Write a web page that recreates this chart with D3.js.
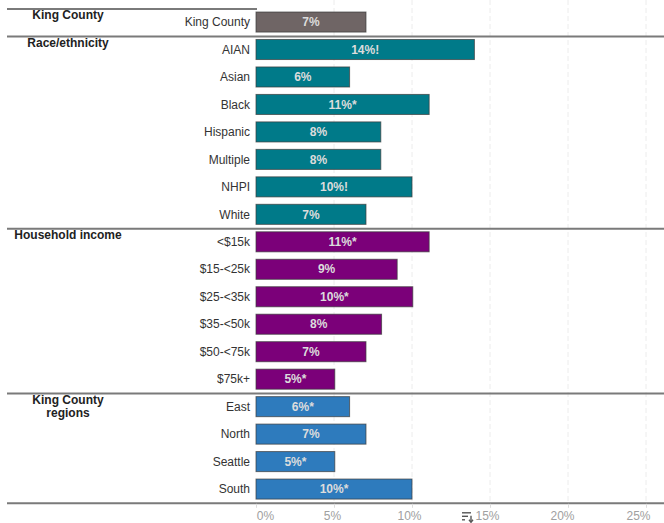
<!DOCTYPE html>
<html>
<head>
<meta charset="utf-8">
<script src="https://cdn.jsdelivr.net/npm/d3@7"></script>
<style>
  html, body { margin: 0; padding: 0; background: #fff; }
  svg { display: block; font-family: "Liberation Sans", Arial, sans-serif; }
</style>
</head>
<body>
<svg id="chart" width="664" height="523"></svg>
<script>
// ---- data ----
const groups = ["King County", "Race/ethnicity", "Household income", "King County regions"];
const groupLabels = [["King County"], ["Race/ethnicity"], ["Household income"], ["King County", "regions"]];
const categories = ["King County",
  "AIAN", "Asian", "Black", "Hispanic", "Multiple", "NHPI", "White",
  "<$15k", "$15-<25k", "$25-<35k", "$35-<50k", "$50-<75k", "$75k+",
  "East", "North", "Seattle", "South"];
const categoryGroup = [0, 1,1,1,1,1,1,1, 2,2,2,2,2,2, 3,3,3,3];
const values = [7.05, 14.0, 6.0, 11.1, 8.0, 8.0, 10.0, 7.05, 11.1, 9.05, 10.05, 8.05, 7.05, 5.05, 6.0, 7.05, 5.05, 10.0];
const valueLabels = ["7%", "14%!", "6%", "11%*", "8%", "8%", "10%!", "7%",
  "11%*", "9%", "10%*", "8%", "7%", "5%*", "6%*", "7%", "5%*", "10%*"];
const groupColors = ["#6f6565", "#007a89", "#7b0079", "#2e7bbd"];
const xTicks = [0, 5, 10, 15, 20, 25];
const xTickLabels = ["0%", "5%", "10%", "15%", "20%", "25%"];

// ---- layout ----
const svg = d3.select("#chart");
const x = d3.scaleLinear().domain([0, 25]).range([256, 646]);
const y = d3.scaleBand().domain(d3.range(categories.length))
  .range([8.3, 502.8]).paddingInner(0.27).paddingOuter(0.135);

// gridlines
svg.append("g").selectAll("line").data(xTicks.filter(d => d > 0)).join("line")
  .attr("x1", d => x(d)).attr("x2", d => x(d))
  .attr("y1", 0).attr("y2", 503)
  .attr("stroke", "#ececec").attr("stroke-width", 1)
  .attr("stroke-dasharray", "5,3");

// bars
const rows = categories.map((c, i) => ({ c, i, v: values[i], lab: valueLabels[i], g: categoryGroup[i] }));
svg.append("g").selectAll("rect").data(rows).join("rect")
  .attr("x", x(0)).attr("y", d => y(d.i))
  .attr("width", d => x(d.v) - x(0)).attr("height", y.bandwidth())
  .attr("fill", d => groupColors[d.g])
  .attr("stroke", "#3a3a3a").attr("stroke-opacity", 0.7).attr("stroke-width", 1);

// value labels
svg.append("g").selectAll("text").data(rows).join("text")
  .attr("x", d => (x(0) + x(d.v)) / 2)
  .attr("y", d => y(d.i) + y.bandwidth() / 2)
  .attr("dy", "0.35em")
  .attr("text-anchor", "middle")
  .attr("font-size", 12).attr("font-weight", "bold")
  .attr("fill", "#dcdcdc")
  .text(d => d.lab);

// category labels
svg.append("g").selectAll("text").data(rows).join("text")
  .attr("x", 250)
  .attr("y", d => y(d.i) + y.bandwidth() / 2)
  .attr("dy", "0.35em")
  .attr("text-anchor", "end")
  .attr("font-size", 12).attr("fill", "#333")
  .text(d => d.c);

// group separators & headers
const step = y.step();
groups.forEach((g, gi) => {
  const first = categoryGroup.indexOf(gi);
  const yTop = y(first) - step * 0.135;
  svg.append("line")
    .attr("x1", 7).attr("x2", gi === 0 ? 257 : 664)
    .attr("y1", yTop + 0.7).attr("y2", yTop + 0.7)
    .attr("stroke", "#7a7a7a").attr("stroke-width", 2);
  const t = svg.append("text")
    .attr("x", 68).attr("y", yTop + 11)
    .attr("text-anchor", "middle")
    .attr("font-size", 12).attr("font-weight", "bold").attr("fill", "#222");
  groupLabels[gi].forEach((line, li) => {
    t.append("tspan").attr("x", 68).attr("dy", li === 0 ? 0 : 13).text(line);
  });
});

// bottom axis line
const yBottom = y.range()[1];
svg.append("line")
  .attr("x1", 7).attr("x2", 664).attr("y1", yBottom + 0.5).attr("y2", yBottom + 0.5)
  .attr("stroke", "#7a7a7a").attr("stroke-width", 2);

// x axis
const axis = svg.append("g").attr("transform", `translate(0,${yBottom + 1})`)
  .call(d3.axisBottom(x).tickValues(xTicks).tickFormat((d, i) => xTickLabels[i]).tickSize(4).tickPadding(4));
axis.select(".domain").remove();
axis.selectAll(".tick line").attr("stroke", "#ddd");
axis.selectAll(".tick text")
  .attr("font-family", "'Liberation Sans', Arial, sans-serif")
  .attr("font-size", 12).attr("fill", "#a0a0a0")
  .attr("dx", (d) => (d === 0 ? 9 : d === 5 ? -2 : d === 25 ? -8 : d === 20 ? -6 : -3));

// small sort icon near 15% label (UI artifact)
const ix = x(15) - 28, iy = yBottom + 10;
const icon = svg.append("g").attr("stroke", "#555").attr("stroke-width", 1.4);
icon.append("line").attr("x1", ix).attr("x2", ix + 9).attr("y1", iy).attr("y2", iy);
icon.append("line").attr("x1", ix).attr("x2", ix + 6).attr("y1", iy + 3.5).attr("y2", iy + 3.5);
icon.append("line").attr("x1", ix).attr("x2", ix + 3).attr("y1", iy + 7).attr("y2", iy + 7);
icon.append("line").attr("x1", ix + 9).attr("x2", ix + 9).attr("y1", iy + 3).attr("y2", iy + 9);
icon.append("path").attr("d", `M${ix + 7},${iy + 7} L${ix + 9},${iy + 9.5} L${ix + 11},${iy + 7}`).attr("fill", "none");
</script>
</body>
</html>
